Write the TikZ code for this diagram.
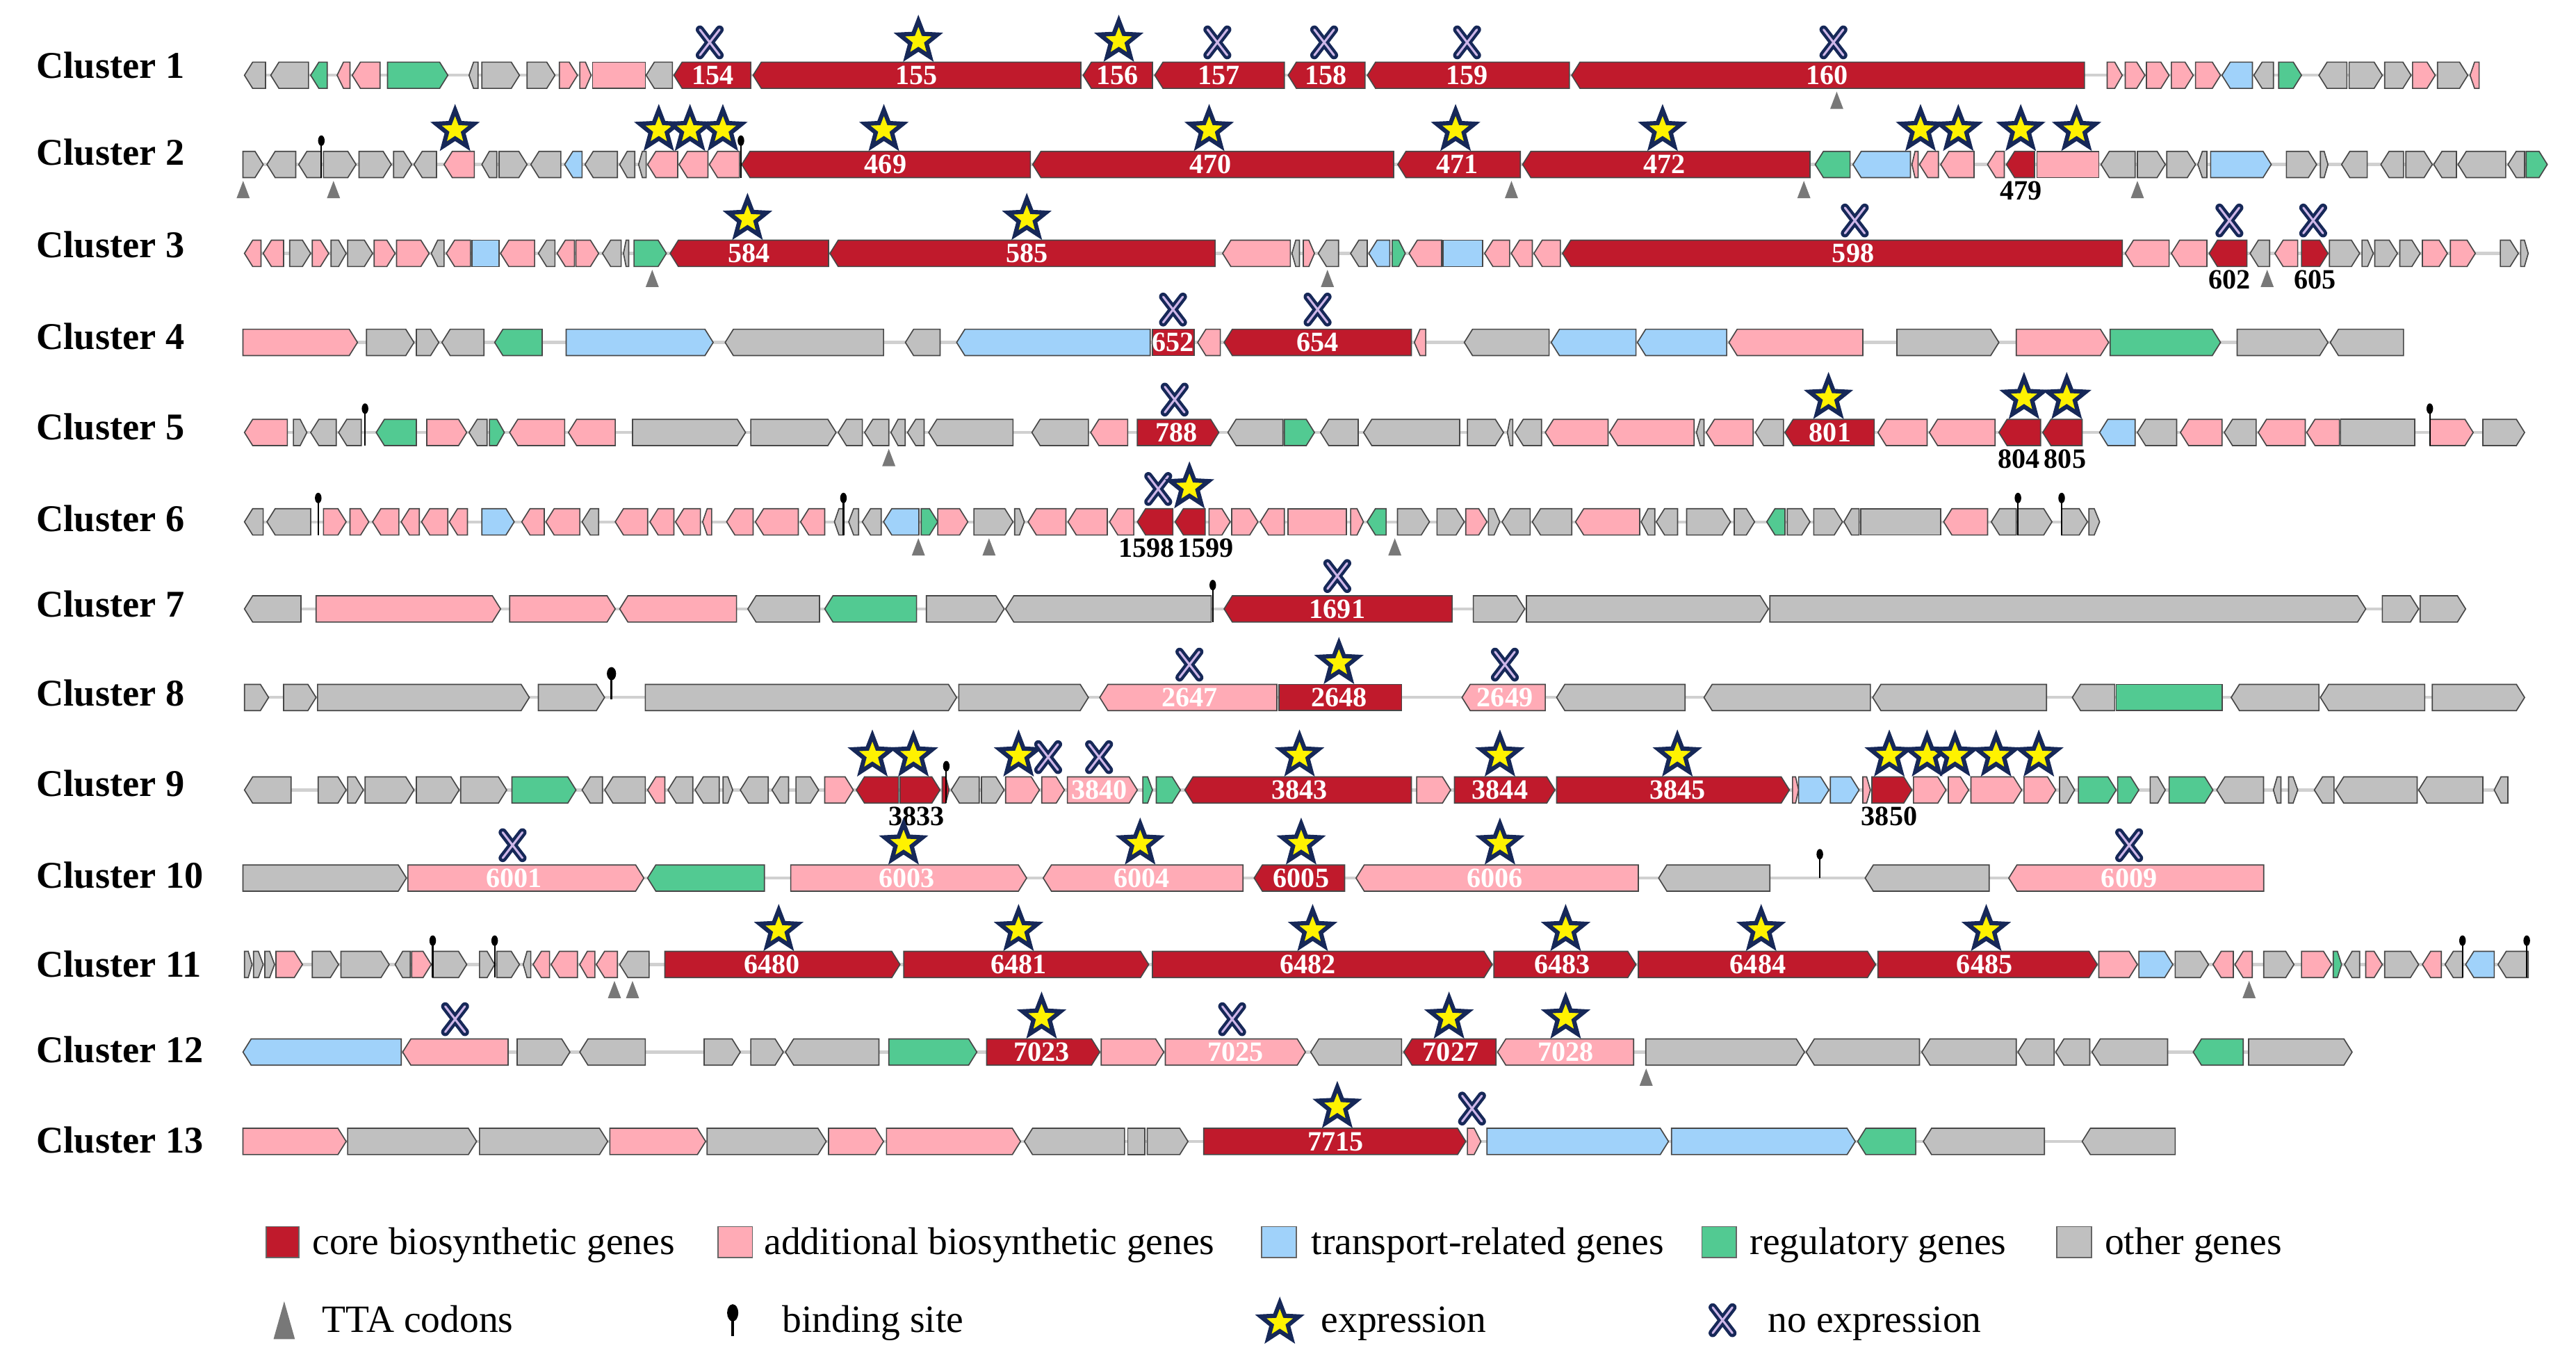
\documentclass[tikz,border=0pt]{standalone}
\usepackage{fontspec}
\setmainfont{Liberation Serif}
\usepackage{tikz}

\definecolor{corered}{RGB}{192,26,44}
\definecolor{addpink}{RGB}{255,171,182}
\definecolor{transblue}{RGB}{160,210,250}
\definecolor{reggreen}{RGB}{82,202,146}
\definecolor{othergray}{RGB}{192,192,192}
\definecolor{starnavy}{RGB}{22,40,88}
\definecolor{xlav}{RGB}{205,182,232}
\definecolor{ttagray}{RGB}{120,120,120}
\definecolor{bbgray}{RGB}{208,208,208}

% gene arrows: start, end, colour style
\newcommand{\geneR}[3]{\pgfmathsetmacro{\gtip}{min(5,0.5*(#2-#1))}\draw[gene,#3] (#1,-8) -- ({#2-\gtip},-8) -- (#2,0) -- ({#2-\gtip},8) -- (#1,8) -- cycle;}
\newcommand{\geneL}[3]{\pgfmathsetmacro{\gtip}{min(5,0.5*(#2-#1))}\draw[gene,#3] (#2,-8) -- ({#1+\gtip},-8) -- (#1,0) -- ({#1+\gtip},8) -- (#2,8) -- cycle;}
\newcommand{\geneB}[3]{\draw[gene,#3] (#1,-8) rectangle (#2,8);}
% marks
\newcommand{\exprmark}[2]{\draw[exprstar,shift={(#1,#2)}] (-90:12.2) -- (-54:5.2) -- (-18:12.2) -- (18:5.2) -- (54:12.2) -- (90:5.2) -- (126:12.2) -- (162:5.2) -- (198:12.2) -- (234:5.2) -- cycle;}
\newcommand{\noexprmark}[2]{\draw[xnavy] ({#1-6},{#2-7.8}) -- ({#1+6},{#2+7.8}) ({#1-6},{#2+7.8}) -- ({#1+6},{#2-7.8});
  \draw[xinner] ({#1-6},{#2-7.8}) -- ({#1+6},{#2+7.8}) ({#1-6},{#2+7.8}) -- ({#1+6},{#2-7.8});}
\newcommand{\ttasite}[1]{\fill[tta] ({#1-4},20.5) -- ({#1+4},20.5) -- (#1,10) -- cycle;}
\newcommand{\bindsite}[1]{\draw[bindline] (#1,8) -- (#1,-12); \fill (#1,-14.5) ellipse (2 and 3.2);}

\begin{document}
\begin{tikzpicture}[x=1pt,y=1pt,yscale=-1,
  gene/.style={draw=black!72,line width=0.7pt,line join=miter},
  gcore/.style={fill=corered},
  gadd/.style={fill=addpink},
  gtrans/.style={fill=transblue},
  greg/.style={fill=reggreen},
  goth/.style={fill=othergray},
  backbone/.style={draw=bbgray,line width=1.8pt},
  lblw/.style={text=white,font=\fontsize{17}{17}\selectfont\bfseries,inner sep=0pt},
  lblk/.style={text=black,font=\fontsize{17}{17}\selectfont\bfseries,inner sep=0pt},
  clus/.style={anchor=base west,font=\fontsize{23}{23}\selectfont\bfseries,inner sep=0pt},
  legtxt/.style={anchor=base west,font=\fontsize{23.5}{23.5}\selectfont,inner sep=0pt},
  legsq/.style={draw=black!60,line width=0.7pt},
  exprstar/.style={fill=yellow,draw=starnavy,line width=2.6pt,line join=miter},
  xnavy/.style={draw=starnavy,line width=5pt,line cap=round},
  xinner/.style={draw=xlav,line width=1.3pt,line cap=round},
  tta/.style={fill=ttagray},
  bindline/.style={draw=black,line width=0.9pt}
]
\fill[white] (0,0) rectangle (1568,831);
\useasboundingbox (0,0) rectangle (1568,831);

% Text Node
\node[clus] (c1) at (22,47.6) {Cluster 1};
\node[clus] (c2) at (22,100.6) {Cluster 2};
\node[clus] (c3) at (22,156.6) {Cluster 3};
\node[clus] (c4) at (22,212.6) {Cluster 4};
\node[clus] (c5) at (22,267.6) {Cluster 5};
\node[clus] (c6) at (22,323.6) {Cluster 6};
\node[clus] (c7) at (22,375.6) {Cluster 7};
\node[clus] (c8) at (22,429.6) {Cluster 8};
\node[clus] (c9) at (22,484.6) {Cluster 9};
\node[clus] (c10) at (22,540.6) {Cluster 10};
\node[clus] (c11) at (22,594.6) {Cluster 11};
\node[clus] (c12) at (22,646.6) {Cluster 12};
\node[clus] (c13) at (22,701.6) {Cluster 13};

% Cluster 1
\begin{scope}[shift={(0,45.8)}]
\draw[backbone] (148.8,0) -- (1509,0);
\geneL{148.8}{161.6}{goth}\geneL{164.8}{187.8}{goth}\geneL{189.1}{199.2}{greg}
\geneL{205.2}{213}{gadd}\geneL{214.4}{231.3}{gadd}\geneR{235.9}{272.6}{greg}
\geneL{285.5}{291}{goth}\geneR{293.3}{316.2}{goth}\geneR{320.8}{337.8}{goth}
\geneR{340.5}{351.5}{gadd}\geneR{352.9}{359.8}{gadd}\geneB{360.7}{392.8}{gadd}
\geneL{393.3}{409.3}{goth}
\geneL{410.2}{457}{gcore}\geneL{458.4}{657.9}{gcore}\geneL{659.3}{701.5}{gcore}
\geneL{702.9}{781.8}{gcore}\geneL{784.1}{830.9}{gcore}\geneL{832.3}{955.3}{gcore}
\geneL{956.7}{1268.8}{gcore}
\geneR{1282.6}{1291.8}{gadd}\geneR{1293.6}{1305.6}{gadd}\geneR{1306.5}{1320.3}{gadd}
\geneR{1321.7}{1335}{gadd}\geneR{1336.4}{1351.6}{gadd}\geneL{1352.5}{1371}{gtrans}
\geneL{1371.9}{1383.8}{goth}\geneR{1387}{1400.9}{greg}\geneL{1411.5}{1428.5}{goth}
\geneR{1429.9}{1450.1}{goth}\geneR{1451.5}{1467.6}{goth}\geneR{1468.5}{1482.3}{gadd}
\geneR{1483.7}{1502.1}{goth}\geneL{1503.5}{1509}{gadd}
\node[lblw] (n154) at (434,0) {154};
\node[lblw] (n155) at (558,0) {155};
\node[lblw] (n156) at (680,0) {156};
\node[lblw] (n157) at (742,0) {157};
\node[lblw] (n158) at (807,0) {158};
\node[lblw] (n159) at (893,0) {159};
\node[lblw] (n160) at (1112,0) {160};
\noexprmark{432}{-20}\exprmark{559}{-21}\exprmark{681}{-21}\noexprmark{741}{-20}
\noexprmark{806}{-20}\noexprmark{893}{-20}\noexprmark{1116}{-20}
\ttasite{1118}
\end{scope}

% Cluster 2
\begin{scope}[shift={(0,100.1)}]
\draw[backbone] (147.9,0) -- (1550.5,0);
\geneR{147.9}{160.2}{goth}\geneL{162.5}{180}{goth}\geneL{181.8}{195.6}{goth}
\geneR{196.9}{216.7}{goth}\geneR{218.5}{238.2}{goth}\geneR{239.6}{250.6}{goth}
\geneL{252}{265.7}{goth}\geneL{270.3}{288.7}{gadd}\geneL{293.3}{302.4}{goth}
\geneR{303.8}{320.8}{goth}\geneL{323.1}{341.4}{goth}\geneL{343.7}{354.3}{gtrans}
\geneL{356.1}{375.8}{goth}\geneL{377.2}{386.4}{goth}\geneL{388.7}{393.3}{goth}
\geneL{394.2}{412.5}{gadd}\geneL{413.4}{430.9}{gadd}\geneL{431.8}{450.1}{gadd}
\geneL{451.5}{627.2}{gcore}\geneL{628.6}{848.3}{gcore}\geneL{850.8}{925.4}{gcore}
\geneL{926.8}{1101.7}{gcore}
\geneL{1104.9}{1126.1}{greg}\geneL{1127.9}{1162.9}{gtrans}\geneL{1163.8}{1167.5}{gadd}
\geneL{1168.4}{1179.9}{gadd}\geneL{1181.3}{1201.6}{gadd}\geneL{1209.8}{1220}{gadd}
\geneL{1221.3}{1238.4}{gcore}\geneB{1239.8}{1277.5}{gadd}\geneL{1278.9}{1299.6}{goth}
\geneR{1301}{1318}{goth}\geneR{1318.9}{1336.4}{goth}\geneL{1337.8}{1343.3}{goth}
\geneR{1345.6}{1382.5}{gtrans}\geneR{1391.7}{1410.1}{goth}\geneR{1412.4}{1417}{goth}
\geneL{1425.3}{1440.9}{goth}\geneL{1449.2}{1463}{goth}\geneR{1464.4}{1480.5}{goth}
\geneL{1481.4}{1495.2}{goth}\geneL{1496.2}{1525.2}{goth}\geneL{1526.6}{1536.7}{goth}
\geneR{1537.6}{1550.5}{greg}
\bindsite{195.6}\bindsite{451}
\node[lblw] (n469) at (539,0) {469};
\node[lblw] (n470) at (737,0) {470};
\node[lblw] (n471) at (887,0) {471};
\node[lblw] (n472) at (1013,0) {472};
\node[lblk] (n479) at (1230,16) {479};
\exprmark{277}{-21}\exprmark{401}{-21}\exprmark{420}{-21}\exprmark{440}{-21}
\exprmark{538}{-21}\exprmark{736}{-21}\exprmark{886}{-21}\exprmark{1012}{-21}
\exprmark{1169}{-21}\exprmark{1192}{-21}\exprmark{1230}{-21}\exprmark{1264}{-21}
\ttasite{148}\ttasite{203}\ttasite{920}\ttasite{1098}\ttasite{1301}
\end{scope}

% Cluster 3
\begin{scope}[shift={(0,154.2)}]
\draw[backbone] (148.8,0) -- (1538.9,0);
\geneL{148.8}{158.9}{gadd}\geneL{160.2}{172.6}{gadd}\geneR{176.3}{189.1}{goth}
\geneR{190.1}{200.1}{gadd}\geneR{201.5}{210.7}{goth}\geneR{211.6}{226.8}{goth}
\geneR{227.7}{240.5}{gadd}\geneR{241.4}{261.2}{gadd}\geneL{262.5}{270.3}{goth}
\geneL{271.7}{286.4}{gadd}\geneB{287.3}{303.8}{gtrans}\geneL{304.7}{325.4}{gadd}
\geneL{327.7}{337.8}{goth}\geneL{339.1}{349.7}{gadd}\geneR{350.6}{364.4}{gadd}
\geneL{366.7}{378.1}{goth}\geneL{379.5}{382.7}{goth}\geneR{385.9}{405.6}{greg}
\geneL{407.9}{504.3}{gcore}\geneL{505.2}{739.6}{gcore}
\geneL{744.2}{785.4}{gadd}\geneL{786.4}{791}{goth}\geneR{793.3}{800.1}{gadd}
\geneL{802.4}{814.8}{goth}\geneL{822.1}{832.2}{goth}\geneL{833.2}{846}{gtrans}
\geneR{847.4}{855.4}{greg}\geneL{857.7}{877.5}{gadd}\geneB{878.4}{902.4}{gtrans}
\geneL{903.7}{918.9}{gadd}\geneL{919.9}{932.7}{gadd}\geneL{933.7}{949.8}{gadd}
\geneL{951.1}{1291.8}{gcore}
\geneL{1293.6}{1320.3}{gadd}\geneL{1321.7}{1343.3}{gadd}\geneL{1344.7}{1367.7}{gcore}
\geneL{1369.6}{1381.5}{goth}\geneL{1384.7}{1398.6}{gadd}\geneR{1400.9}{1417}{gcore}
\geneR{1417.9}{1436.3}{goth}\geneR{1437.7}{1444.6}{goth}\geneR{1445.5}{1459.3}{goth}
\geneR{1460.7}{1473.1}{goth}\geneR{1474.5}{1489.7}{gadd}\geneR{1491.5}{1506.7}{gadd}
\geneR{1521.9}{1532.9}{goth}\geneR{1534.3}{1538.9}{goth}
\node[lblw] (n584) at (456,0) {584};
\node[lblw] (n585) at (625,0) {585};
\node[lblw] (n598) at (1128,0) {598};
\node[lblk] (n602) at (1357,16) {602};
\node[lblk] (n605) at (1409,16) {605};
\exprmark{455}{-21}\exprmark{625}{-21}
\noexprmark{1129}{-20}\noexprmark{1357}{-20}\noexprmark{1408}{-20}
\ttasite{397}\ttasite{808}\ttasite{1380}
\end{scope}

% Cluster 4
\begin{scope}[shift={(0,208.4)}]
\draw[backbone] (147.9,0) -- (1463,0);
\geneR{147.9}{217.6}{gadd}\geneR{223.1}{252}{goth}\geneR{253.4}{267.1}{goth}
\geneL{269}{294.6}{goth}\geneL{301.1}{330}{greg}\geneR{344.6}{434.1}{gtrans}
\geneL{441.4}{537.8}{goth}\geneL{551.1}{572.2}{goth}\geneL{582.3}{700.1}{gtrans}
\geneB{701.5}{726.8}{gcore}\geneL{729}{742.8}{gadd}\geneL{745.1}{859.1}{gcore}
\geneL{860.9}{867.8}{gadd}\geneL{891.3}{942.9}{goth}\geneL{944.2}{995.8}{gtrans}
\geneL{996.7}{1051}{gtrans}\geneL{1052.4}{1133.9}{gadd}\geneR{1154.6}{1216.7}{goth}
\geneR{1227.3}{1283.5}{gadd}\geneR{1284.4}{1351.6}{greg}\geneR{1361.7}{1417}{goth}
\geneL{1418.4}{1463}{goth}
\node[lblw] (n652) at (714,0) {652};
\node[lblw] (n654) at (802,0) {654};
\noexprmark{714}{-20}\noexprmark{802}{-20}
\end{scope}

% Cluster 5
\begin{scope}[shift={(0,263.2)}]
\draw[backbone] (148.8,0) -- (1536.7,0);
\geneL{148.8}{174.9}{gadd}\geneR{178.6}{186.8}{goth}\geneL{189.1}{204.7}{goth}
\geneL{206.1}{219.9}{goth}\geneL{229}{253.4}{greg}\geneR{259.8}{284.1}{gadd}
\geneL{285.5}{296.5}{goth}\geneR{297.9}{307}{greg}\geneL{310.2}{343.7}{gadd}
\geneL{346}{374.5}{gadd}\geneR{385}{453.8}{goth}\geneR{457}{508.9}{goth}
\geneL{510.2}{524.9}{goth}\geneL{526.3}{541}{goth}\geneL{542.3}{551}{goth}
\geneL{552.4}{562.5}{goth}\geneL{565.3}{616.6}{goth}\geneL{628.1}{662.5}{goth}
\geneL{663.9}{686.4}{gadd}\geneR{692.3}{741.9}{gcore}\geneL{747.4}{780.9}{goth}
\geneR{781.8}{800.1}{greg}\geneL{803.8}{826.7}{goth}\geneL{830}{888.5}{goth}
\geneR{893.2}{915.2}{goth}\geneL{917.5}{920.8}{goth}\geneL{922.2}{938.3}{goth}
\geneL{940.6}{978.8}{gadd}\geneL{979.7}{1031.2}{gadd}\geneL{1032.6}{1037.2}{goth}
\geneL{1038.6}{1067.1}{gadd}\geneL{1068.5}{1085.6}{goth}\geneL{1086.5}{1140.8}{gcore}
\geneL{1143.1}{1173}{gadd}\geneL{1174.4}{1214.4}{gadd}\geneL{1216.7}{1242.1}{gcore}
\geneL{1243.4}{1267.4}{gcore}\geneL{1278}{1299.6}{gtrans}\geneL{1301}{1324.9}{goth}
\geneL{1327.2}{1352.5}{gadd}\geneL{1353.9}{1373.3}{goth}\geneL{1374.6}{1403.2}{gadd}
\geneL{1404.1}{1424}{gadd}\geneB{1424.8}{1469.9}{goth}\geneR{1479.1}{1505.4}{gadd}
\geneR{1511.3}{1536.7}{goth}
\bindsite{222.2}\bindsite{1479}
\node[lblw] (n788) at (716,0) {788};
\node[lblw] (n801) at (1114,0) {801};
\node[lblk] (n804) at (1229,16) {804};
\node[lblk] (n805) at (1257,16) {805};
\noexprmark{715}{-20}\exprmark{1113}{-21}\exprmark{1232}{-21}\exprmark{1258}{-21}
\ttasite{541}
\end{scope}

% Cluster 6
\begin{scope}[shift={(0,317.6)}]
\draw[backbone] (148.8,0) -- (1278,0);
\geneL{148.8}{160.2}{goth}\geneL{162.5}{189.1}{goth}\geneR{196.9}{210.7}{gadd}
\geneR{213}{224.5}{gadd}\geneL{226.8}{242.8}{gadd}\geneL{244.2}{255.2}{gadd}
\geneL{256.6}{272.6}{gadd}\geneL{273.5}{284.5}{gadd}\geneR{293.3}{313}{gtrans}
\geneL{317.6}{331.3}{gadd}\geneL{332.3}{352.9}{gadd}\geneL{354.3}{364.4}{goth}
\geneL{374.5}{394.2}{gadd}\geneL{395.6}{410.2}{gadd}\geneL{411.2}{426.3}{gadd}
\geneL{427.7}{433.2}{gadd}\geneL{442.3}{458.4}{gadd}\geneL{459.8}{485.9}{gadd}
\geneL{487.3}{502}{gadd}\geneL{507.9}{513.4}{goth}\geneL{516.6}{522.6}{goth}
\geneL{524.9}{536.4}{goth}\geneL{537.8}{559.3}{gtrans}\geneR{560.7}{570.8}{greg}
\geneR{570.8}{589.1}{gadd}\geneR{592.8}{616.6}{goth}\geneR{617.6}{623.5}{goth}
\geneL{625.8}{648.8}{gadd}\geneL{650.1}{674}{gadd}\geneL{675.4}{690.1}{gadd}
\geneL{692.3}{713.9}{gcore}\geneL{715.3}{733.6}{gcore}\geneR{735.9}{748.8}{gadd}
\geneR{749.7}{765.7}{gadd}\geneL{767.1}{781.8}{gadd}\geneB{784.1}{819.4}{gadd}
\geneR{822.1}{829.9}{gadd}\geneL{832.2}{843.7}{greg}\geneR{850.6}{870.1}{goth}
\geneR{874.7}{891.3}{goth}\geneR{892.2}{905.1}{gadd}\geneR{906}{912.9}{goth}
\geneL{914.3}{931.4}{goth}\geneL{932.7}{956.7}{goth}\geneL{959}{998.1}{gadd}
\geneL{999}{1007.3}{goth}\geneL{1008.2}{1021.1}{goth}\geneR{1026.6}{1053.3}{goth}
\geneR{1055.6}{1068}{goth}\geneL{1075.4}{1086.5}{greg}\geneR{1087.9}{1101.7}{goth}
\geneR{1104}{1121.5}{goth}\geneL{1122.4}{1131.6}{goth}\geneB{1132.5}{1181.3}{goth}
\geneL{1183.1}{1209.8}{gadd}\geneL{1212.1}{1227.3}{goth}\geneR{1228.3}{1249}{goth}
\geneR{1254.9}{1270.6}{goth}\geneR{1271.5}{1278}{goth}
\bindsite{193.7}\bindsite{513.4}\bindsite{1228.3}\bindsite{1254.9}
\node[lblk] (n1598) at (698,16) {1598};
\node[lblk] (n1599) at (734,16) {1599};
\noexprmark{705}{-20}\exprmark{724}{-21}
\ttasite{559}\ttasite{602}\ttasite{849}
\end{scope}

% Cluster 7
\begin{scope}[shift={(0,370.6)}]
\draw[backbone] (148.8,0) -- (1500.8,0);
\geneL{148.8}{183.2}{goth}\geneR{192.4}{304.7}{gadd}\geneR{310.2}{374.5}{gadd}
\geneL{377.2}{448.3}{gadd}\geneL{455.2}{498.8}{goth}\geneL{502}{557.9}{greg}
\geneR{563.9}{611.2}{goth}\geneL{612.1}{737.3}{goth}\geneL{745.1}{883.9}{gcore}
\geneR{896.8}{928.1}{goth}\geneR{929.1}{1076.4}{goth}\geneR{1077.3}{1440}{goth}
\geneR{1450.1}{1472.2}{goth}\geneR{1473.1}{1500.8}{goth}
\bindsite{738.2}
\node[lblw] (n1691) at (814,0) {1691};
\noexprmark{814}{-20}
\end{scope}

% Cluster 8
\begin{scope}[shift={(0,424.5)}]
\draw[backbone] (148.8,0) -- (1536.7,0);
\geneR{148.8}{163.5}{goth}\geneR{172.6}{192.4}{goth}\geneR{193.3}{322.2}{goth}
\geneR{327.7}{368}{goth}\geneR{392.8}{582.3}{goth}\geneR{583.6}{662.5}{goth}
\geneL{669.4}{777.2}{gadd}\geneB{778.6}{853.1}{gcore}\geneL{889.9}{940.6}{gadd}
\geneL{947.5}{1025.7}{goth}\geneL{1037.2}{1138.5}{goth}\geneL{1139.9}{1245.7}{goth}
\geneL{1261.4}{1287.2}{goth}\geneB{1288.1}{1352.5}{greg}\geneL{1358.1}{1411.5}{goth}
\geneL{1412.4}{1475.9}{goth}\geneR{1480.5}{1536.7}{goth}
\draw[bindline,line width=1.4pt] (372.2,1) -- (372.2,-12); \fill (372.2,-14.5) ellipse (2.8 and 4);
\node[lblw] (n2647) at (724,0) {2647};
\node[lblw] (n2648) at (815,0) {2648};
\node[lblw] (n2649) at (916,0) {2649};
\noexprmark{724}{-20}\exprmark{815}{-21}\noexprmark{916}{-20}
\end{scope}

% Cluster 9
\begin{scope}[shift={(0,480.8)}]
\draw[backbone] (148.8,0) -- (1526.5,0);
\geneL{148.8}{177.2}{goth}\geneR{193.7}{210.7}{goth}\geneR{211.6}{221.2}{goth}
\geneR{222.2}{252}{goth}\geneR{253.4}{279.5}{goth}\geneR{280.4}{308.4}{goth}
\geneR{311.6}{350.6}{greg}\geneL{354.3}{366.7}{goth}\geneL{368.1}{392.8}{goth}
\geneL{394.2}{404.7}{gadd}\geneL{406.6}{421.7}{goth}\geneL{423.1}{437.8}{goth}
\geneR{440.1}{446}{goth}\geneL{450.6}{467.6}{goth}\geneL{469.9}{480}{goth}
\geneR{484.5}{498.3}{goth}\geneR{502}{519.4}{gadd}\geneL{521.2}{546.9}{gcore}
\geneR{547.8}{572.2}{gcore}\geneR{573.5}{577.7}{gcore}\geneL{579}{596}{goth}
\geneR{597.4}{611.2}{goth}\geneR{612.1}{632.7}{gadd}\geneR{634.1}{647.9}{gadd}
\geneR{649.7}{692.3}{gadd}\geneR{695.6}{701.5}{greg}\geneR{703.8}{718.5}{greg}
\geneL{721.2}{859.1}{gcore}\geneR{862.3}{883}{gadd}\geneR{885.3}{946.5}{gcore}
\geneR{947.5}{1089.2}{gcore}\geneR{1091.1}{1094.8}{gadd}\geneR{1094.8}{1113.2}{gtrans}
\geneR{1114.1}{1131.6}{gtrans}\geneR{1133.9}{1138.5}{gadd}\geneR{1139.4}{1163.8}{gcore}
\geneR{1164.7}{1184.5}{gadd}\geneR{1185.9}{1198.3}{gadd}\geneR{1199.7}{1230.6}{gadd}
\geneR{1232}{1251.3}{gadd}\geneR{1253.6}{1262.8}{goth}\geneR{1265.1}{1288.1}{greg}
\geneR{1289}{1301.9}{greg}\geneR{1308.8}{1318}{goth}\geneR{1320.3}{1347}{greg}
\geneL{1349.3}{1377.8}{goth}\geneL{1383.8}{1388.4}{goth}\geneR{1393}{1398.6}{goth}
\geneL{1408.7}{1420.7}{goth}\geneL{1421.6}{1471.3}{goth}\geneL{1472.2}{1511.3}{goth}
\geneL{1518.2}{1526.5}{goth}
\bindsite{576}
\node[lblw] (n3840) at (669,0) {3840};
\node[lblw] (n3843) at (791,0) {3843};
\node[lblw] (n3844) at (913,0) {3844};
\node[lblw] (n3845) at (1021,0) {3845};
\node[lblk] (n3833) at (558,16) {3833};
\node[lblk] (n3850) at (1150,16) {3850};
\exprmark{531}{-21}\exprmark{556}{-21}\exprmark{620}{-21}
\noexprmark{638}{-20}\noexprmark{669}{-20}
\exprmark{791}{-21}\exprmark{913}{-21}\exprmark{1021}{-21}
\exprmark{1150}{-21}\exprmark{1173}{-21}\exprmark{1190}{-21}\exprmark{1215}{-21}\exprmark{1241}{-21}
\end{scope}

% Cluster 10
\begin{scope}[shift={(0,534.4)}]
\draw[backbone] (147.9,0) -- (1377.9,0);
\geneR{147.9}{247.4}{goth}\geneR{248.3}{391.9}{gadd}\geneL{394.2}{465.3}{greg}
\geneR{481.3}{624.9}{gadd}\geneL{635}{756.6}{gadd}\geneL{763.4}{818.5}{gcore}
\geneL{825.4}{997.2}{gadd}\geneL{1009.6}{1077.3}{goth}\geneL{1135.3}{1210.8}{goth}
\geneL{1222.7}{1377.9}{gadd}
\draw[bindline] (1107.7,0) -- (1107.7,-12); \fill (1107.7,-14.5) ellipse (2 and 3.2);
\node[lblw] (n6001) at (313,0) {6001};
\node[lblw] (n6003) at (552,0) {6003};
\node[lblw] (n6004) at (695,0) {6004};
\node[lblw] (n6005) at (792,0) {6005};
\node[lblw] (n6006) at (910,0) {6006};
\node[lblw] (n6009) at (1296,0) {6009};
\noexprmark{312}{-20}\exprmark{550}{-21}\exprmark{694}{-21}\exprmark{792}{-21}
\exprmark{913}{-21}\noexprmark{1296}{-20}
\end{scope}

% Cluster 11
\begin{scope}[shift={(0,587)}]
\draw[backbone] (148.8,0) -- (1538.9,0);
\geneR{148.8}{153.4}{goth}\geneR{154.3}{160.2}{goth}\geneR{161.2}{167.1}{goth}
\geneR{168}{184.1}{gadd}\geneR{190.1}{206.1}{goth}\geneR{207.5}{236.9}{goth}
\geneL{240.5}{249.7}{goth}\geneR{250.6}{262.5}{gadd}\geneR{263.4}{284.1}{goth}
\geneR{291.9}{301.1}{goth}\geneR{302.4}{316.2}{goth}\geneL{318.5}{323.1}{goth}
\geneL{324.5}{334.5}{gadd}\geneL{335.5}{351.5}{gadd}\geneL{352.9}{362.1}{gadd}
\geneL{363}{375.8}{gadd}\geneL{377.2}{395.1}{goth}
\geneR{404.7}{547.8}{gcore}\geneR{550.1}{699.2}{gcore}\geneR{701.5}{908.3}{gcore}
\geneR{909.3}{995.8}{gcore}\geneR{997.2}{1141.7}{gcore}\geneR{1143.1}{1276.6}{gcore}
\geneR{1277.5}{1301}{gadd}\geneR{1301.9}{1322.6}{gtrans}\geneR{1324}{1344.3}{goth}
\geneL{1347}{1359.4}{gadd}\geneL{1360.4}{1370.9}{gadd}\geneR{1377.9}{1396.3}{goth}
\geneR{1400.9}{1419.3}{gadd}\geneR{1420.2}{1425.3}{greg}\geneL{1427.1}{1436.3}{goth}
\geneR{1440}{1450.1}{gadd}\geneR{1451.5}{1472.2}{goth}\geneL{1474.5}{1486}{gadd}
\geneL{1488.3}{1498.9}{goth}\geneL{1500.8}{1518.2}{gtrans}\geneL{1520.5}{1538.9}{goth}
\bindsite{263.4}\bindsite{301.1}\bindsite{1498.9}\bindsite{1538}
\node[lblw] (n6480) at (470,0) {6480};
\node[lblw] (n6481) at (620,0) {6481};
\node[lblw] (n6482) at (796,0) {6482};
\node[lblw] (n6483) at (951,0) {6483};
\node[lblw] (n6484) at (1070,0) {6484};
\node[lblw] (n6485) at (1208,0) {6485};
\exprmark{474}{-21}\exprmark{620}{-21}\exprmark{799}{-21}\exprmark{953}{-21}
\exprmark{1072}{-21}\exprmark{1209}{-21}
\ttasite{374}\ttasite{385}\ttasite{1369}
\end{scope}

% Cluster 12
\begin{scope}[shift={(0,640.3)}]
\draw[backbone] (147.9,0) -- (1431.7,0);
\geneL{147.9}{244.2}{gtrans}\geneL{245.1}{309.3}{gadd}\geneR{314.8}{346.9}{goth}
\geneL{352.9}{392.8}{goth}\geneR{428.6}{450.6}{goth}\geneR{457}{476.8}{goth}
\geneL{478.1}{535}{goth}\geneR{541}{594.6}{greg}\geneR{600.6}{669.4}{gcore}
\geneR{670.3}{708.4}{gadd}\geneR{709.3}{794.6}{gadd}\geneL{797.8}{853.1}{goth}
\geneL{854.5}{910.6}{gcore}\geneL{911.6}{994.4}{gadd}\geneR{1001.8}{1098.4}{goth}
\geneL{1099.4}{1168.4}{goth}\geneL{1169.8}{1227.3}{goth}\geneL{1228.3}{1250.3}{goth}
\geneL{1251.3}{1272}{goth}\geneL{1273.4}{1319.4}{goth}\geneL{1335}{1365.4}{greg}
\geneR{1368.7}{1431.7}{goth}
\node[lblw] (n7023) at (634,0) {7023};
\node[lblw] (n7025) at (752,0) {7025};
\node[lblw] (n7027) at (883,0) {7027};
\node[lblw] (n7028) at (953,0) {7028};
\noexprmark{277}{-20}\exprmark{634}{-21}\noexprmark{750}{-20}\exprmark{882}{-21}\exprmark{953}{-21}
\ttasite{1002}
\end{scope}

% Cluster 13
\begin{scope}[shift={(0,694.7)}]
\draw[backbone] (147.9,0) -- (1324,0);
\geneR{147.9}{210.7}{gadd}\geneR{211.6}{290.1}{goth}\geneR{291.9}{369.9}{goth}
\geneR{371.2}{429.5}{gadd}\geneR{430.4}{502.9}{goth}\geneR{504.3}{537.8}{gadd}
\geneR{539.6}{621.2}{gadd}\geneL{623.5}{684.5}{goth}\geneB{686.4}{696.9}{goth}
\geneR{698.3}{723.1}{goth}\geneR{732.7}{892.2}{gcore}\geneR{893.2}{901.4}{gadd}
\geneR{905.1}{1015.6}{gtrans}\geneR{1017.4}{1129.3}{gtrans}\geneL{1130.7}{1166.1}{greg}
\geneL{1170.7}{1244.4}{goth}\geneL{1267.4}{1324}{goth}
\node[lblw] (n7715) at (813,0) {7715};
\exprmark{814}{-21}\noexprmark{896}{-20}
\end{scope}

% Legend
\draw[legsq,gcore] (162,746.5) rectangle (182,765.5);
\node[legtxt] (lcore) at (190,763.5) {core biosynthetic genes};
\draw[legsq,gadd] (437,746.5) rectangle (458,765.5);
\node[legtxt] (ladd) at (465,763.5) {additional biosynthetic genes};
\draw[legsq,gtrans] (768,746.5) rectangle (789,765.5);
\node[legtxt] (ltrans) at (798,763.5) {transport-related genes};
\draw[legsq,greg] (1036,746.5) rectangle (1057,765.5);
\node[legtxt] (lreg) at (1065,763.5) {regulatory genes};
\draw[legsq,goth] (1252,746.5) rectangle (1273,765.5);
\node[legtxt] (loth) at (1281,763.5) {other genes};

\fill[tta] (166.5,815) -- (179.5,815) -- (173,792) -- cycle;
\node[legtxt] (ltta) at (196,811) {TTA codons};
\draw[bindline,line width=1.6pt] (446,813) -- (446,800);
\fill (446,799) ellipse (3.4 and 5.2);
\node[legtxt] (lbind) at (476,811) {binding site};
\exprmark{779}{805}
\node[legtxt] (lexpr) at (804,811) {expression};
\noexprmark{1048.5}{803.5}
\node[legtxt] (lnoexpr) at (1076,811) {no expression};
\end{tikzpicture}
\end{document}
